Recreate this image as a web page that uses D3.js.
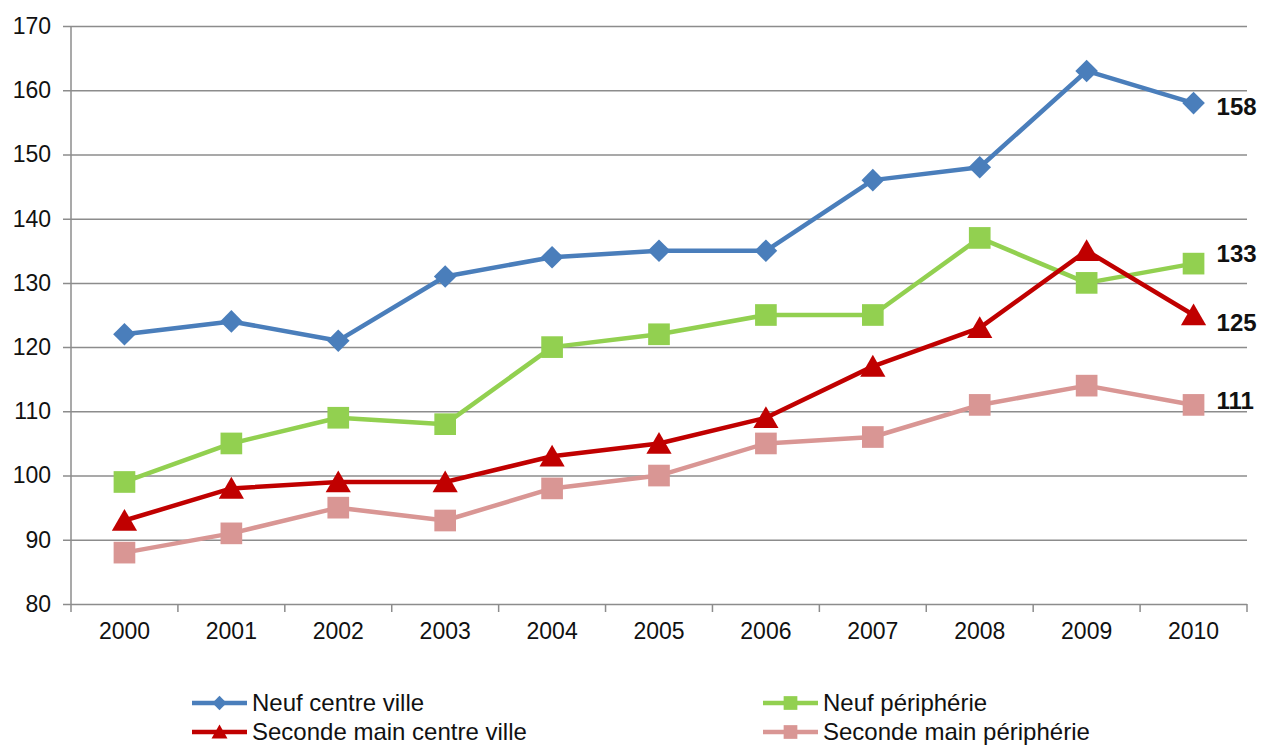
<!DOCTYPE html>
<html lang="fr">
<head>
<meta charset="UTF-8">
<title>Prix</title>
<script src="https://cdn.jsdelivr.net/npm/d3@7"></script>
<style>
  body { margin: 0; background: #fff; }
  svg { font-family: "Liberation Sans", Arial, sans-serif; }
</style>
</head>
<body>
<script>
const years = ["2000","2001","2002","2003","2004","2005","2006","2007","2008","2009","2010"]
const yTicks = [80, 90, 100, 110, 120, 130, 140, 150, 160, 170]

const neufCentre = [122, 124, 121, 131, 134, 135, 135, 146, 148, 163, 158]
const neufPeriph = [99, 105, 109, 108, 120, 122, 125, 125, 137, 130, 133]
const secondeCentre = [93, 98, 99, 99, 103, 105, 109, 117, 123, 135, 125]
const secondePeriph = [88, 91, 95, 93, 98, 100, 105, 106, 111, 114, 111]

const seriesNames = ["Neuf centre ville", "Neuf périphérie", "Seconde main centre ville", "Seconde main périphérie"]

const width = 1261, height = 745
const margin = {top: 26, right: 14, bottom: 141, left: 71}

const series = [
  {name: seriesNames[0], values: neufCentre, color: "#4a7ebb", symbol: "diamond", labelDy: 4},
  {name: seriesNames[1], values: neufPeriph, color: "#92d050", symbol: "square", labelDy: -10},
  {name: seriesNames[2], values: secondeCentre, color: "#c00000", symbol: "triangle", labelDy: 8},
  {name: seriesNames[3], values: secondePeriph, color: "#d99694", symbol: "square", labelDy: -4}
]

const svg = d3.select("body").append("svg").attr("width", width).attr("height", height)

const x = d3.scaleBand().domain(years).range([margin.left, width - margin.right])
const y = d3.scaleLinear().domain([80, 170]).range([height - margin.bottom, margin.top])

// gridlines + y axis
const yAxis = d3.axisLeft(y).tickValues(yTicks).tickSize(-(width - margin.right - margin.left) - 8).tickPadding(12)
svg.append("g").attr("transform", `translate(${margin.left - 8},0)`).call(yAxis)
  .call(g => g.select(".domain").remove())
  .call(g => g.selectAll(".tick line").attr("stroke", "#8c8c8c").attr("stroke-width", 1.5))
  .call(g => g.selectAll(".tick text").attr("font-size", 23).attr("fill", "#111").attr("x", -12))

svg.append("line")
  .attr("x1", margin.left).attr("x2", margin.left)
  .attr("y1", margin.top).attr("y2", height - margin.bottom + 8)
  .attr("stroke", "#8c8c8c").attr("stroke-width", 1.5)

// x axis
const xAxis = d3.axisBottom(x).tickSize(0).tickPadding(19)
svg.append("g").attr("transform", `translate(0,${height - margin.bottom})`).call(xAxis)
  .call(g => g.select(".domain").remove())
  .call(g => g.selectAll(".tick text").attr("font-size", 23).attr("fill", "#111"))

svg.append("g").selectAll("line")
  .data(years)
  .enter().append("line")
  .attr("x1", d => x(d) + x.bandwidth()).attr("x2", d => x(d) + x.bandwidth())
  .attr("y1", height - margin.bottom).attr("y2", height - margin.bottom + 8)
  .attr("stroke", "#8c8c8c").attr("stroke-width", 1.5)

const symbolType = {diamond: d3.symbolSquare, square: d3.symbolSquare, triangle: d3.symbolTriangle}
const symbolSize = {diamond: 256, square: 470, triangle: 275}
const symbolRotate = {diamond: 45, square: 0, triangle: 0}
const symbolShift = {diamond: 0, square: 0, triangle: 3}

const line = d3.line().x((d, i) => x(years[i]) + x.bandwidth() / 2).y(d => y(d))

series.forEach(s => {
  const g = svg.append("g")
  g.append("path").datum(s.values)
    .attr("d", line).attr("fill", "none")
    .attr("stroke", s.color).attr("stroke-width", 4.5).attr("stroke-linejoin", "round")
  g.selectAll("path.mark").data(s.values).enter().append("path")
    .attr("class", "mark")
    .attr("transform", (d, i) => `translate(${x(years[i]) + x.bandwidth() / 2},${y(d) + symbolShift[s.symbol]}) rotate(${symbolRotate[s.symbol]})`)
    .attr("d", d3.symbol().type(symbolType[s.symbol]).size(symbolSize[s.symbol]))
    .attr("fill", s.color)
  const last = s.values.length - 1
  g.append("text")
    .attr("x", x(years[last]) + x.bandwidth() / 2 + 23)
    .attr("y", y(s.values[last]) + s.labelDy)
    .attr("dy", "0.35em")
    .attr("font-size", 24).attr("font-weight", "bold").attr("fill", "#111")
    .text(s.values[last])
})

// legend
const legendPos = [[192, 703], [763, 703], [192, 732], [763, 732]]
series.forEach((s, k) => {
  const [lx, ly] = legendPos[k]
  const g = svg.append("g").attr("transform", `translate(${lx},${ly})`)
  g.append("line").attr("x1", 0).attr("x2", 55).attr("y1", 0).attr("y2", 0)
    .attr("stroke", s.color).attr("stroke-width", 4.5)
  g.append("path")
    .attr("transform", `translate(27.5,${symbolShift[s.symbol] * 0.6}) rotate(${symbolRotate[s.symbol]})`)
    .attr("d", d3.symbol().type(symbolType[s.symbol]).size(symbolSize[s.symbol] * 0.4))
    .attr("fill", s.color)
  g.append("text").attr("x", 60).attr("dy", "0.35em")
    .attr("font-size", 24).attr("fill", "#111").text(s.name)
})
</script>
</body>
</html>
